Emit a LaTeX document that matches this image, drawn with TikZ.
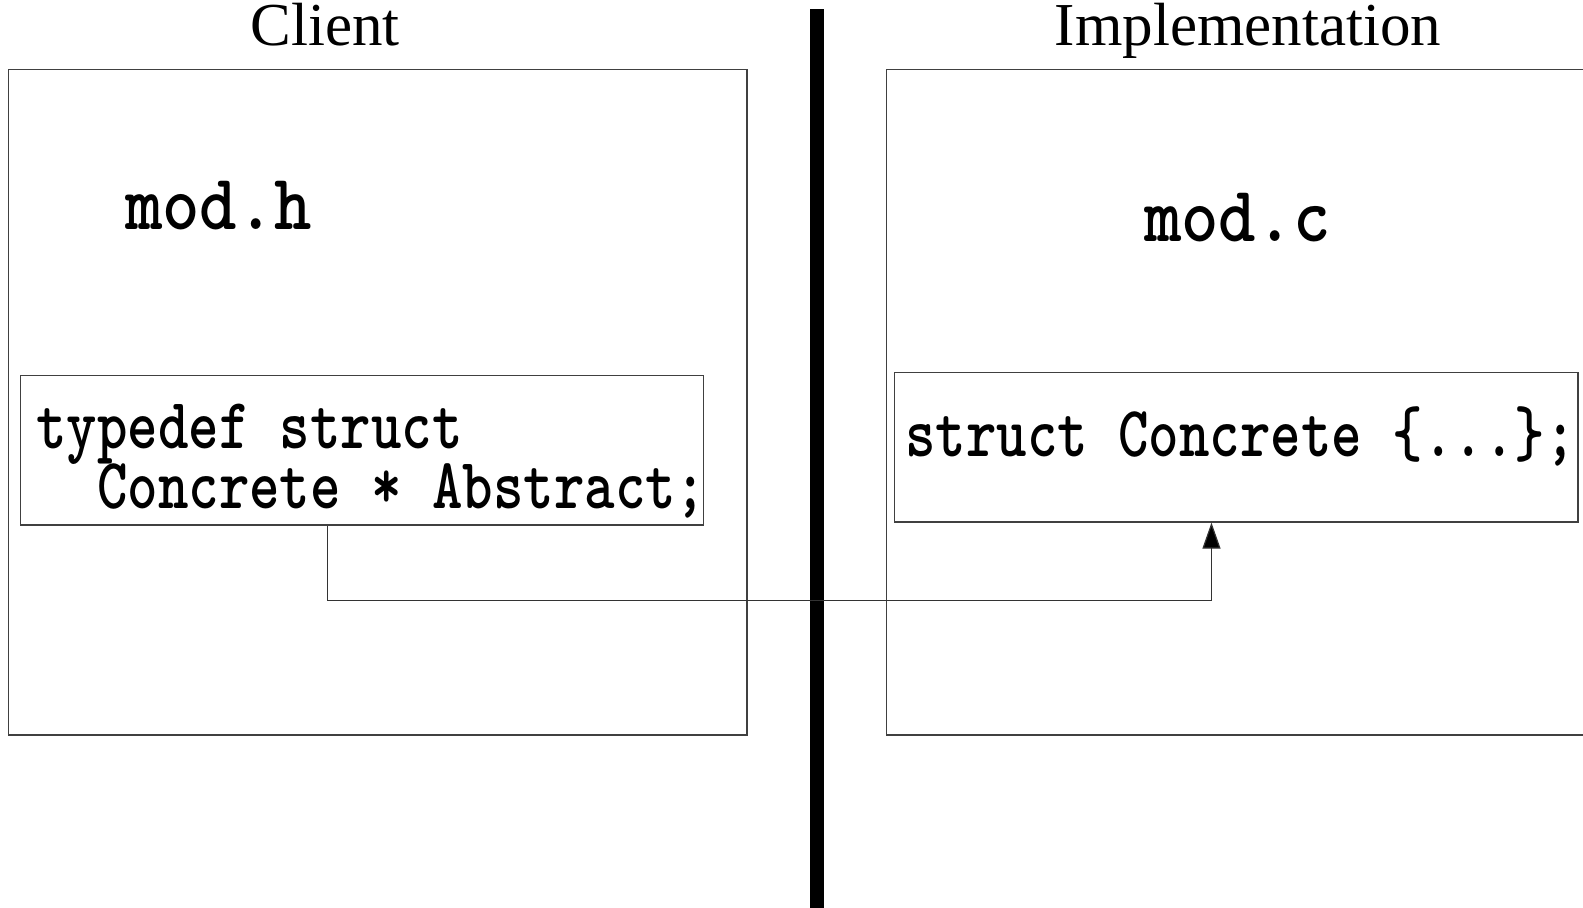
\documentclass[tikz,border=0pt]{standalone}
\usepackage{fontspec}
\usepackage{graphicx}
\setmainfont{Liberation Serif}
\usetikzlibrary{arrows.meta,calc}

% condensed, heavy typewriter lettering for the file names and the code
\newcommand{\codetext}[1]{\scalebox{0.806}[1]{#1}}
\newcommand{\filetext}[1]{\scalebox{0.90}[1]{#1}}

\tikzset{
  frame/.style={draw=black!75, line width=1.2pt},
  codebox/.style={frame, rectangle, inner sep=0pt},
  heading/.style={anchor=base, inner sep=0pt, font=\fontsize{61}{70}\selectfont},
  filename/.style={anchor=base west, inner sep=0pt, font=\fontsize{79}{90}\selectfont\ttfamily\bfseries},
  code/.style={anchor=base west, inner sep=0pt, font=\fontsize{72}{90}\selectfont\ttfamily\bfseries},
  conn/.style={draw=black!80, line width=1.2pt, -{Triangle[length=26pt,width=18pt,fill=black]}},
  divider/.style={fill=black}
}

\begin{document}
\begin{tikzpicture}[x=1pt, y=-1pt]
  \useasboundingbox (0,0) rectangle (1583,908);

  % column headings
  \node[heading] (client) at (325,45.5) {Client};
  \node[heading] (impl) at (1248,45.5) {Implementation};

  % outer file frames
  \draw[frame] (8.1,69.7) rectangle (747,735);
  \draw[frame] (1583,69.7) -- (886.4,69.7) -- (886.4,735) -- (1583,735);

  % dividing bar
  \fill[divider] (810,9.1) rectangle (823.5,908);

  % file names
  \node[filename] (modh) at (125,229) {\filetext{mod.h}};
  \node[filename] (modc) at (1144,241) {\filetext{mod.c}};

  % declaration boxes
  \node[codebox, minimum width=683.5pt, minimum height=149.4pt] (hbox) at (361.95,450.3) {};
  \node[codebox, minimum width=683.5pt, minimum height=149.5pt] (cbox) at (1236.25,447.25) {};

  % code
  \node[code] (hline1) at (36,448) {\codetext{typedef struct}};
  \node[code] (hline2) at (36,508) {\codetext{\ \ Concrete * Abstract;}};
  \node[code] (cline) at (905,456) {\codetext{struct Concrete \{...\};}};

  % reference from the typedef to the concrete struct
  \coordinate (from) at ($(hbox.south west)!0.450!(hbox.south east)$);
  \coordinate (to) at ($(cbox.south west)!0.4638!(cbox.south east)$);
  \draw[conn] (from) -- ++(0,74.7) -| (to);
\end{tikzpicture}
\end{document}
